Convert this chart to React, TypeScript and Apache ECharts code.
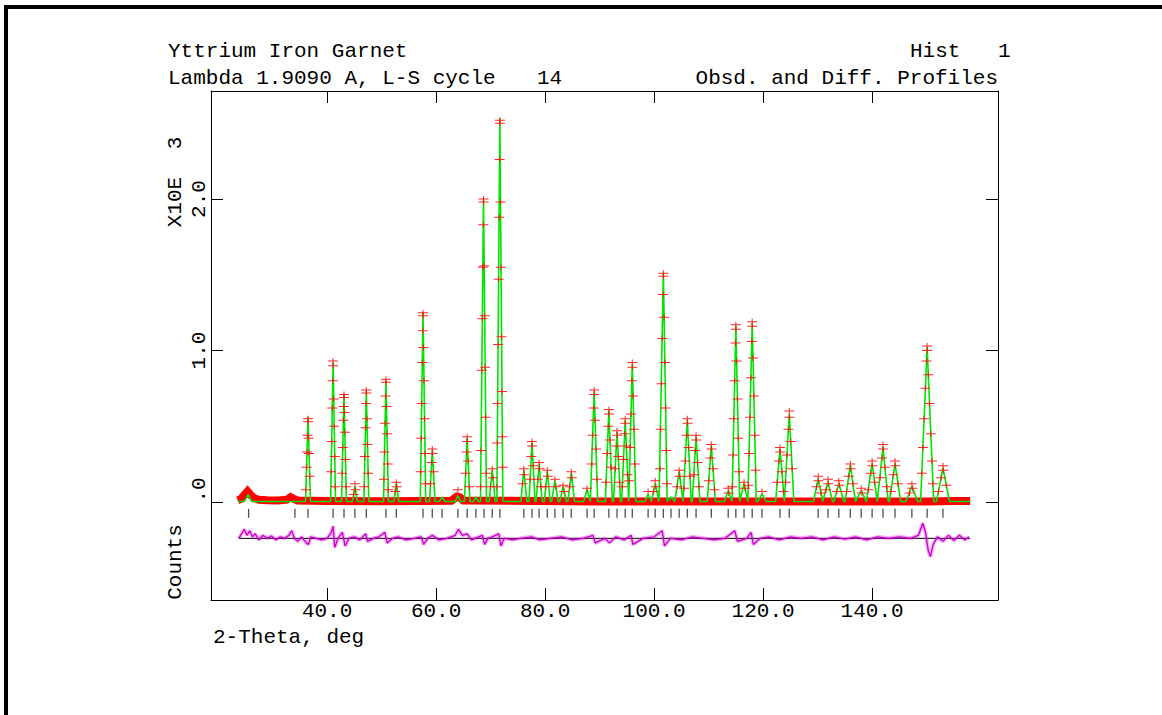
import React, { useEffect, useRef } from "react";
import * as echarts from "echarts";

// ---- axis ranges and ticks ----
const xRange = [18.7, 163.1];
const yRange = [-0.647, 2.713];
const xTicks = [40, 60, 80, 100, 120, 140];
const yTicks = [0, 1, 2];
const yTickLabels = [".0", "1.0", "2.0"];

// ---- texts ----
const titleLeft = "Yttrium Iron Garnet";
const histWord = "Hist";
const histNo = "1";
const lambdaText = "Lambda 1.9090 A, L-S cycle";
const cycleNo = "14";
const profileText = "Obsd. and Diff. Profiles";
const xName = "2-Theta, deg";
const yScaleWord = "X10E";
const yScaleExp = "3";
const yName = "Counts";

// ---- calculated profile: peak positions (deg), heights (x10^3 counts), half base widths (deg) ----
const peakPos = [25.5, 36.5, 41.1, 43.1, 45.1, 47.2, 50.8, 52.7, 57.6, 59.3, 61.1, 64.0, 65.7, 67.3, 68.7, 70.3, 71.7, 76.1, 77.6, 78.9, 80.4, 81.8, 83.3, 84.8, 87.7, 89.0, 91.7, 93.2, 94.7, 96.0, 98.9, 100.2, 101.7, 103.1, 104.6, 106.1, 107.7, 110.5, 113.6, 115.0, 116.5, 118.0, 119.8, 123.1, 124.8, 130.1, 131.9, 133.9, 136.0, 138.0, 140.0, 142.0, 144.2, 147.3, 150.1, 153.0];
const peakCalc = [0.045, 0.56, 0.92, 0.71, 0.10, 0.73, 0.80, 0.12, 1.25, 0.34, 0.03, 0.04, 0.42, 0.03, 2.00, 0.21, 2.53, 0.21, 0.39, 0.25, 0.20, 0.14, 0.10, 0.19, 0.08, 0.73, 0.60, 0.46, 0.54, 0.91, 0.05, 0.12, 1.51, 0.03, 0.20, 0.54, 0.43, 0.37, 0.07, 1.16, 0.12, 1.18, 0.05, 0.35, 0.58, 0.15, 0.13, 0.12, 0.24, 0.07, 0.25, 0.36, 0.25, 0.10, 1.02, 0.22];
const peakHalfWidth = [0.7, 0.45, 0.45, 0.45, 0.45, 0.45, 0.45, 0.45, 0.5, 0.5, 0.5, 0.5, 0.5, 0.45, 0.55, 0.55, 0.55, 0.55, 0.55, 0.55, 0.55, 0.6, 0.6, 0.6, 0.6, 0.65, 0.65, 0.65, 0.65, 0.65, 0.6, 0.7, 0.7, 0.7, 0.7, 0.7, 0.7, 0.75, 0.7, 0.7, 0.7, 0.75, 0.8, 0.8, 0.85, 0.85, 0.85, 0.9, 0.95, 0.95, 0.95, 0.95, 1.05, 1.1, 1.2, 1.2];
const backgroundLevel = 0.003;
const dataStart = 23.6;
const dataEnd = 158.0;

const peakObs = [
  [],
  [0.55, 0.53, 0.44, 0.42, 0.33, 0.32, 0.23, 0.17, 0.08],
  [0.93, 0.90, 0.80, 0.68, 0.62, 0.50, 0.40, 0.30, 0.20, 0.10],
  [0.71, 0.69, 0.63, 0.59, 0.54, 0.46, 0.36, 0.28, 0.19, 0.10],
  [0.12, 0.08, 0.05],
  [0.74, 0.72, 0.65, 0.55, 0.49, 0.38, 0.30, 0.19, 0.10],
  [0.81, 0.79, 0.70, 0.63, 0.52, 0.45, 0.33, 0.25, 0.15, 0.08],
  [0.13, 0.10, 0.07],
  [1.25, 1.23, 1.13, 1.02, 0.92, 0.80, 0.65, 0.55, 0.42, 0.32, 0.20, 0.12],
  [0.35, 0.32, 0.26, 0.20, 0.12],
  [],
  [0.08],
  [0.43, 0.40, 0.33, 0.27, 0.19, 0.10],
  [],
  [2.00, 1.98, 1.83, 1.56, 1.55, 1.23, 1.21, 0.89, 0.87, 0.56, 0.34, 0.19, 0.10],
  [0.22, 0.16, 0.10],
  [2.52, 2.50, 2.26, 1.98, 1.88, 1.55, 1.47, 1.09, 1.04, 0.73, 0.65, 0.43, 0.39, 0.23, 0.10],
  [0.22, 0.18, 0.12],
  [0.40, 0.37, 0.30, 0.24, 0.15],
  [0.26, 0.22, 0.15, 0.10],
  [0.21, 0.17, 0.10],
  [0.15, 0.10],
  [0.11, 0.07],
  [0.20, 0.16, 0.10],
  [0.09],
  [0.74, 0.71, 0.62, 0.54, 0.44, 0.35, 0.25, 0.15],
  [0.61, 0.58, 0.50, 0.41, 0.32, 0.23, 0.13],
  [0.47, 0.44, 0.37, 0.30, 0.22, 0.13],
  [0.55, 0.52, 0.45, 0.37, 0.28, 0.18, 0.10],
  [0.92, 0.89, 0.80, 0.70, 0.58, 0.48, 0.36, 0.25, 0.14],
  [0.07],
  [0.14, 0.10, 0.07],
  [1.51, 1.49, 1.37, 1.22, 1.08, 0.92, 0.78, 0.62, 0.48, 0.34, 0.22, 0.12],
  [],
  [0.21, 0.17, 0.10],
  [0.55, 0.52, 0.44, 0.36, 0.27, 0.17, 0.09],
  [0.44, 0.41, 0.34, 0.26, 0.18, 0.10],
  [0.38, 0.35, 0.29, 0.22, 0.14, 0.08],
  [0.09, 0.06],
  [1.17, 1.14, 1.05, 0.93, 0.80, 0.68, 0.55, 0.42, 0.31, 0.20, 0.10],
  [0.13, 0.09],
  [1.19, 1.16, 1.06, 0.95, 0.82, 0.70, 0.56, 0.44, 0.32, 0.21, 0.11],
  [0.07],
  [0.36, 0.33, 0.27, 0.20, 0.13, 0.07],
  [0.60, 0.56, 0.48, 0.40, 0.31, 0.22, 0.13],
  [0.17, 0.14, 0.10, 0.06],
  [0.15, 0.12, 0.08],
  [0.14, 0.11, 0.07],
  [0.25, 0.22, 0.17, 0.12, 0.07],
  [0.09, 0.06],
  [0.27, 0.24, 0.19, 0.13, 0.08],
  [0.38, 0.35, 0.29, 0.23, 0.16, 0.10],
  [0.27, 0.24, 0.18, 0.12, 0.07],
  [0.12, 0.09, 0.06],
  [1.03, 1.00, 0.93, 0.84, 0.75, 0.65, 0.55, 0.45, 0.36, 0.27, 0.19, 0.12],
  [0.24, 0.21, 0.16, 0.11, 0.07],
];

// ---- dense observed background band (deg, level) ----
const obsBand = [
  [23.6, 0.012], [24.2, 0.02], [24.8, 0.045], [25.4, 0.07], [26.0, 0.045], [26.6, 0.025], [27.5, 0.015],
  [29, 0.012], [31, 0.01], [32.6, 0.015], [33.3, 0.032], [33.9, 0.02], [34.6, 0.01], [40, 0.006],
  [50, 0.005], [62.8, 0.008], [63.8, 0.035], [64.4, 0.03], [65, 0.01], [90, 0.004], [120, 0.004],
  [150, 0.004], [155, 0.006], [158, 0.007],
];

// ---- reflection positions (deg) ----
const reflections = [25.6, 34.1, 36.5, 41.1, 43.1, 45.1, 47.2, 50.8, 52.7, 57.6, 59.3, 61.1, 64.0, 65.7, 67.3, 68.8, 70.3, 71.7, 76.1, 77.6, 78.9, 80.4, 81.8, 83.3, 84.8, 87.7, 89.0, 91.7, 93.2, 94.7, 96.0, 98.9, 100.2, 101.7, 103.1, 104.6, 106.1, 107.7, 110.5, 113.6, 115.0, 116.5, 118.0, 119.8, 123.1, 124.8, 130.1, 131.9, 133.9, 136.0, 138.0, 140.0, 142.0, 144.2, 147.3, 150.1, 153.0];
const reflectionLevel = -0.075;

// ---- difference curve (deg, obs - calc), drawn at an offset ----
const diffOffset = -0.24;
const diffResidual = [
  [23.8, 0.0], [24.3, 0.03], [24.8, 0.06], [25.3, 0.02], [25.8, 0.05], [26.3, 0.01], [26.8, 0.03], [27.5, -0.01],
  [28.2, 0.02], [29, 0.0], [29.8, 0.015], [30.6, -0.01], [31.4, 0.01], [32.2, 0.0], [33, 0.02], [33.5, 0.05],
  [34, 0.0], [34.6, -0.02], [35.3, 0.01], [36.2, -0.03], [36.6, -0.04], [37, 0.01], [38, 0.0], [39, -0.01],
  [40, 0.0], [40.8, 0.04], [41.1, 0.08], [41.4, -0.06], [42, 0.0], [42.8, 0.04], [43.3, -0.05], [44, 0.0],
  [45, 0.01], [46, -0.01], [47.1, 0.03], [47.4, -0.02], [48.5, 0.0], [49.5, 0.01], [50.6, 0.04], [51, -0.03],
  [52, 0.0], [53, 0.01], [54.5, -0.01], [56, 0.0], [57.3, 0.01], [57.7, -0.04], [58.5, 0.0], [59.3, 0.02],
  [60.5, -0.01], [62, 0.0], [63.5, 0.02], [64.1, 0.06], [64.8, 0.02], [65.7, 0.03], [66.5, -0.01], [68.5, 0.02],
  [68.9, -0.04], [69.5, 0.0], [70.3, 0.01], [71.5, 0.03], [71.9, -0.05], [72.5, 0.0], [74, -0.01], [75.5, 0.0],
  [77.5, 0.01], [79, -0.01], [81, 0.0], [83, 0.01], [85, -0.01], [87, 0.0], [88.8, 0.02], [89.2, -0.03],
  [91, 0.0], [91.8, -0.03], [93, 0.01], [94.5, -0.01], [95.8, 0.02], [96.1, -0.04], [98, 0.0], [100, 0.01],
  [101.5, 0.05], [101.9, -0.05], [103, 0.0], [105, -0.01], [107, 0.01], [109, 0.0], [111, -0.01], [113, 0.0],
  [114.8, 0.05], [115.3, -0.02], [117, 0.0], [117.8, 0.04], [118.2, -0.04], [119.5, 0.0], [121, 0.01], [123, -0.01],
  [125, 0.01], [127, 0.0], [129, 0.01], [131, -0.01], [133, 0.01], [135, -0.005], [137, 0.01], [139, -0.01],
  [141, 0.01], [143, 0.0], [145, 0.01], [147, 0.0], [148.5, 0.02], [149.3, 0.1], [149.8, 0.04], [150.3, -0.08],
  [150.7, -0.12], [151.2, -0.04], [152, 0.01], [153, -0.02], [154, 0.02], [155, -0.015], [156, 0.02], [157, -0.01],
  [157.8, 0.01],
];

const FONT = "'Liberation Mono', 'Courier New', monospace";
const PLUS = "path://M0,2.5L10,2.5L10,3.5L0,3.5Z M4.5,0L5.5,0L5.5,6L4.5,6Z";

function buildCalc(): number[][] {
  const pts: number[][] = [[dataStart, backgroundLevel]];
  peakPos.forEach((p, i) => {
    const w = peakHalfWidth[i];
    pts.push([p - w, backgroundLevel], [p, backgroundLevel + peakCalc[i]], [p + w, backgroundLevel]);
  });
  pts.push([dataEnd, backgroundLevel]);
  return pts;
}

function buildObs(): number[][] {
  const pts: number[][] = [];
  peakPos.forEach((p, i) => {
    const h = peakCalc[i];
    const w = peakHalfWidth[i];
    peakObs[i].forEach((v, k) => {
      const t = Math.max(0, 1 - Math.min(v, h) / h);
      const side = k % 2 === 0 ? -1 : 1;
      pts.push([p + side * w * t, v]);
    });
  });
  return pts;
}

function textEl(text: string, x: number, y: number, align: string, rotation = 0) {
  return {
    type: "text",
    x,
    y,
    rotation,
    silent: true,
    style: {
      text,
      fill: "#000",
      fontFamily: FONT,
      fontSize: 21,
      align,
      textAlign: align,
      verticalAlign: "middle",
      textVerticalAlign: "middle",
    },
  };
}

export default function App() {
  const ref = useRef<HTMLDivElement>(null);
  useEffect(() => {
    if (!ref.current) return;
    const chart = echarts.init(ref.current, undefined, { renderer: "svg" });
    const axisCommon = {
      type: "value",
      splitLine: { show: false },
      axisLine: { show: true, onZero: false, lineStyle: { color: "#000", width: 1 } },
    };
    const option: any = {
      animation: false,
      backgroundColor: "#ffffff",
      grid: { left: 211, top: 91, width: 787, height: 509, containLabel: false, outerBoundsMode: "none" },
      xAxis: [
        {
          ...axisCommon,
          position: "bottom",
          min: xRange[0],
          max: xRange[1],
          axisTick: { show: true, inside: true, length: 12, customValues: xTicks, lineStyle: { color: "#000" } },
          axisLabel: {
            show: true,
            customValues: xTicks,
            formatter: (v: number) => v.toFixed(1),
            fontFamily: FONT,
            fontSize: 21,
            color: "#000",
            margin: 11,
            verticalAlign: "middle",
          },
        },
        {
          ...axisCommon,
          position: "top",
          min: xRange[0],
          max: xRange[1],
          axisTick: { show: true, inside: true, length: 12, customValues: xTicks, lineStyle: { color: "#000" } },
          axisLabel: { show: false },
        },
      ],
      yAxis: [
        {
          ...axisCommon,
          position: "left",
          min: yRange[0],
          max: yRange[1],
          axisTick: { show: true, inside: true, length: 12, customValues: yTicks, lineStyle: { color: "#000" } },
          axisLabel: {
            show: true,
            customValues: yTicks,
            rotate: 90,
            align: "center",
            verticalAlign: "middle",
            margin: 12,
            fontFamily: FONT,
            fontSize: 21,
            color: "#000",
            formatter: (v: number) => {
              const idx = yTicks.indexOf(Math.round(v));
              const s = idx >= 0 ? yTickLabels[idx] : String(v);
              return Math.round(v) === 0 ? "{z|" + s + "}" : s;
            },
            rich: {
              z: { fontFamily: FONT, fontSize: 21, color: "#000", padding: [0, 0, 0, 24] },
            },
          },
        },
        {
          ...axisCommon,
          position: "right",
          min: yRange[0],
          max: yRange[1],
          axisTick: { show: true, inside: true, length: 12, customValues: yTicks, lineStyle: { color: "#000" } },
          axisLabel: { show: false },
        },
      ],
      series: [
        {
          name: "band",
          type: "line",
          data: obsBand,
          symbol: "none",
          silent: true,
          lineStyle: { color: "#ff0000", width: 8, cap: "butt", join: "miter" },
          z: 1,
        },
        {
          name: "reflections",
          type: "scatter",
          data: reflections.map((r) => [r, reflectionLevel]),
          symbol: "rect",
          symbolSize: [1.3, 9],
          silent: true,
          itemStyle: { color: "#222" },
          z: 2,
        },
        {
          name: "zero",
          type: "line",
          data: [[dataStart + 0.2, diffOffset], [dataEnd, diffOffset]],
          symbol: "none",
          silent: true,
          lineStyle: { color: "#000", width: 1 },
          z: 2,
        },
        {
          name: "diffHalo",
          type: "line",
          data: diffResidual.map((d) => [d[0], d[1] + diffOffset]),
          symbol: "none",
          silent: true,
          lineStyle: { color: "rgba(214,0,214,0.3)", width: 4 },
          z: 3,
        },
        {
          name: "diff",
          type: "line",
          data: diffResidual.map((d) => [d[0], d[1] + diffOffset]),
          symbol: "none",
          silent: true,
          lineStyle: { color: "#c800c8", width: 1.3 },
          z: 4,
        },
        {
          name: "calc",
          type: "line",
          data: buildCalc(),
          symbol: "none",
          silent: true,
          lineStyle: { color: "#00e400", width: 1.6 },
          z: 5,
        },
        {
          name: "obs",
          type: "scatter",
          data: buildObs(),
          symbol: PLUS,
          symbolSize: [10, 6],
          silent: true,
          itemStyle: { color: "#ff1010", opacity: 0.9 },
          z: 6,
        },
      ],
      graphic: {
        elements: [
          { type: "rect", silent: true, shape: { x: 4, y: 5, width: 1158, height: 4 }, style: { fill: "#000" } },
          { type: "rect", silent: true, shape: { x: 4, y: 5, width: 4, height: 710 }, style: { fill: "#000" } },
          textEl(titleLeft, 168, 51, "left"),
          textEl(histWord, 910, 51, "left"),
          textEl(histNo, 998, 51, "left"),
          textEl(lambdaText, 168, 78.5, "left"),
          textEl(cycleNo, 537, 78.5, "left"),
          textEl(profileText, 998, 78.5, "right"),
          textEl(xName, 213, 637, "left"),
          textEl(yScaleWord, 175, 202, "center", Math.PI / 2),
          textEl(yScaleExp, 175, 143, "center", Math.PI / 2),
          textEl(yName, 175, 562, "center", Math.PI / 2),
        ],
      },
    };
    chart.setOption(option);
    return () => chart.dispose();
  }, []);
  return (
    <div
      ref={ref}
      style={{ position: "absolute", left: 0, top: 0, width: 1162, height: 715, background: "#fff" }}
    />
  );
}
